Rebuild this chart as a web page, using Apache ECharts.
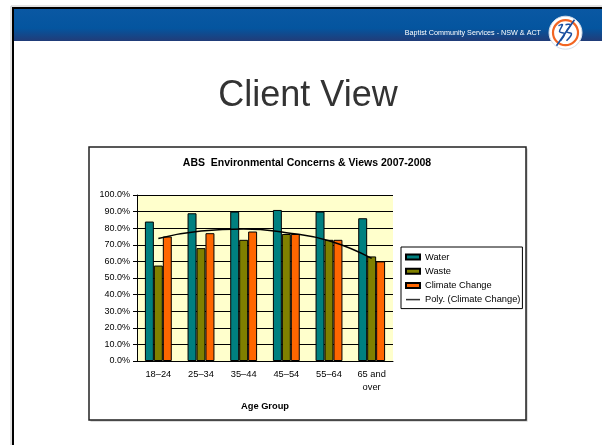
<!DOCTYPE html>
<html>
<head>
<meta charset="utf-8">
<script src="https://cdn.jsdelivr.net/npm/echarts@6/dist/echarts.min.js"></script>
<style>
  html, body { margin: 0; padding: 0; background: #fff; }
  #chart { width: 602px; height: 445px; }
</style>
</head>
<body>
<div id="chart"></div>
<script>
// ABS survey values, % of people concerned
const ageGroups = ['18–24', '25–34', '35–44', '45–54', '55–64', '65 and\nover'];
const water = [84, 89, 90, 91, 90, 86];
const waste = [57.5, 68, 73, 76.5, 73, 63];
const climateChange = [75, 77, 78, 76.5, 73, 60];
// Excel poly trendline at each category centre
const climateTrend = [73.8, 78.3, 79.5, 77.3, 72.4, 61.8];

const font = 'Liberation Sans, Arial, sans-serif';
const cx = 565.5, cy = 32.7; // logo centre

const myChart = echarts.init(document.getElementById('chart'));

const option = {
  animation: false,
  textStyle: { fontFamily: font },
  graphic: [
    // slide frame
    { type: 'rect', z: -20, shape: { x: 11, y: 6, width: 600, height: 460 },
      style: { fill: 'none', stroke: '#c8c8c8', lineWidth: 1 } },
    { type: 'rect', z: -19, shape: { x: 13, y: 8, width: 600, height: 460 },
      style: { fill: '#fff', stroke: '#000', lineWidth: 2 } },
    // header band
    { type: 'rect', z: -18, shape: { x: 14, y: 9, width: 590, height: 32 },
      style: {
        fill: new echarts.graphic.LinearGradient(0, 0, 0, 1, [
          { offset: 0, color: '#0a58a3' },
          { offset: 0.6, color: '#04559f' },
          { offset: 1, color: '#213c78' }
        ])
      } },
    { type: 'text', x: 541, y: 33, z: 5,
      style: { text: 'Baptist Community Services - NSW & ACT', fill: '#fff',
        font: '7.2px ' + font, align: 'right', verticalAlign: 'middle' } },
    // logo
    { type: 'circle', z: 5, shape: { cx: cx, cy: cy, r: 16.5 },
      style: { fill: '#fff', stroke: '#d5deea', lineWidth: 1 } },
    { type: 'circle', z: 6, shape: { cx: cx, cy: cy, r: 12.5 },
      style: { fill: '#fff', stroke: '#f26522', lineWidth: 2.2 } },
    { type: 'polyline', z: 7, shape: { points: [[cx - 9, cy + 13], [cx + 9, cy - 13]] },
      style: { stroke: '#1b4f9f', lineWidth: 1.6 } },
    { type: 'polyline', z: 7, shape: { smooth: 0.4, points: [[cx - 7, cy - 7], [cx - 3, cy - 8], [cx - 6, cy - 1], [cx - 1, cy + 1], [cx - 5, cy + 8]] },
      style: { stroke: '#1b4f9f', lineWidth: 1.5, fill: 'none' } },
    { type: 'polyline', z: 7, shape: { smooth: 0.4, points: [[cx, cy - 8], [cx + 5, cy - 8], [cx + 1, cy - 1], [cx + 6, cy + 1], [cx + 1, cy + 8]] },
      style: { stroke: '#1b4f9f', lineWidth: 1.5, fill: 'none' } },
    // slide title
    { type: 'text', x: 308, y: 96, z: 5,
      style: { text: 'Client View', fill: '#333', font: '36px ' + font,
        align: 'center', verticalAlign: 'middle' } },
    // chart box
    { type: 'rect', z: -15, shape: { x: 90.5, y: 148.5, width: 437, height: 273 },
      style: { fill: '#bbb' } },
    { type: 'rect', z: -14, shape: { x: 89, y: 147, width: 437, height: 273 },
      style: { fill: '#fff', stroke: '#222', lineWidth: 1.5 } }
  ],
  title: {
    text: 'ABS  Environmental Concerns & Views 2007-2008',
    left: 307, top: 158, textAlign: 'center', padding: 0,
    textStyle: { fontSize: 10.5, fontWeight: 'bold', color: '#000', fontFamily: font }
  },
  legend: {
    orient: 'vertical',
    left: 401, top: 247,
    padding: [4, 2, 3, 4],
    backgroundColor: '#fff',
    borderColor: '#000', borderWidth: 1,
    itemWidth: 14, itemHeight: 5, itemGap: 2.2,
    textStyle: { fontSize: 9.3, color: '#000', lineHeight: 12, fontFamily: font },
    data: [
      { name: 'Water', icon: 'rect' },
      { name: 'Waste', icon: 'rect' },
      { name: 'Climate Change', icon: 'rect' },
      { name: 'Poly. (Climate Change)', icon: 'path://M0,0 L20,0 L20,2.2 L0,2.2 Z',
        itemStyle: { color: '#333', borderWidth: 0 } }
    ]
  },
  grid: {
    left: 137, right: 209, top: 195, bottom: 84,
    show: true, backgroundColor: '#ffffcc', borderWidth: 0
  },
  xAxis: {
    type: 'category',
    data: ageGroups,
    name: 'Age Group',
    nameLocation: 'middle',
    nameGap: 41,
    nameTextStyle: { fontSize: 9.3, fontWeight: 'bold', color: '#000' },
    axisLine: { lineStyle: { color: '#000', width: 1 } },
    axisTick: { length: 4, lineStyle: { color: '#000' } },
    axisLabel: { fontSize: 9.3, color: '#000', margin: 7, lineHeight: 13 }
  },
  yAxis: {
    type: 'value',
    min: 0, max: 100, interval: 10,
    axisLine: { show: true, lineStyle: { color: '#000', width: 1 } },
    axisTick: { show: true, length: 4, lineStyle: { color: '#000' } },
    axisLabel: { fontSize: 9, color: '#000', margin: 7,
      formatter: v => v.toFixed(1) + '%' },
    splitLine: { lineStyle: { color: '#000', width: 1 } }
  },
  series: [
    { name: 'Water', type: 'bar', data: water, barGap: '0%', barCategoryGap: '37%',
      itemStyle: { color: '#008080', borderColor: '#000', borderWidth: 1 } },
    { name: 'Waste', type: 'bar', data: waste,
      itemStyle: { color: '#808000', borderColor: '#000', borderWidth: 1 } },
    { name: 'Climate Change', type: 'bar', data: climateChange,
      itemStyle: { color: '#ff6600', borderColor: '#000', borderWidth: 1 } },
    { name: 'Poly. (Climate Change)', type: 'line', data: climateTrend,
      smooth: true, symbol: 'none', z: 5,
      lineStyle: { color: '#000', width: 1.5 }, itemStyle: { color: '#333' } }
  ]
};

myChart.setOption(option);
</script>
</body>
</html>
